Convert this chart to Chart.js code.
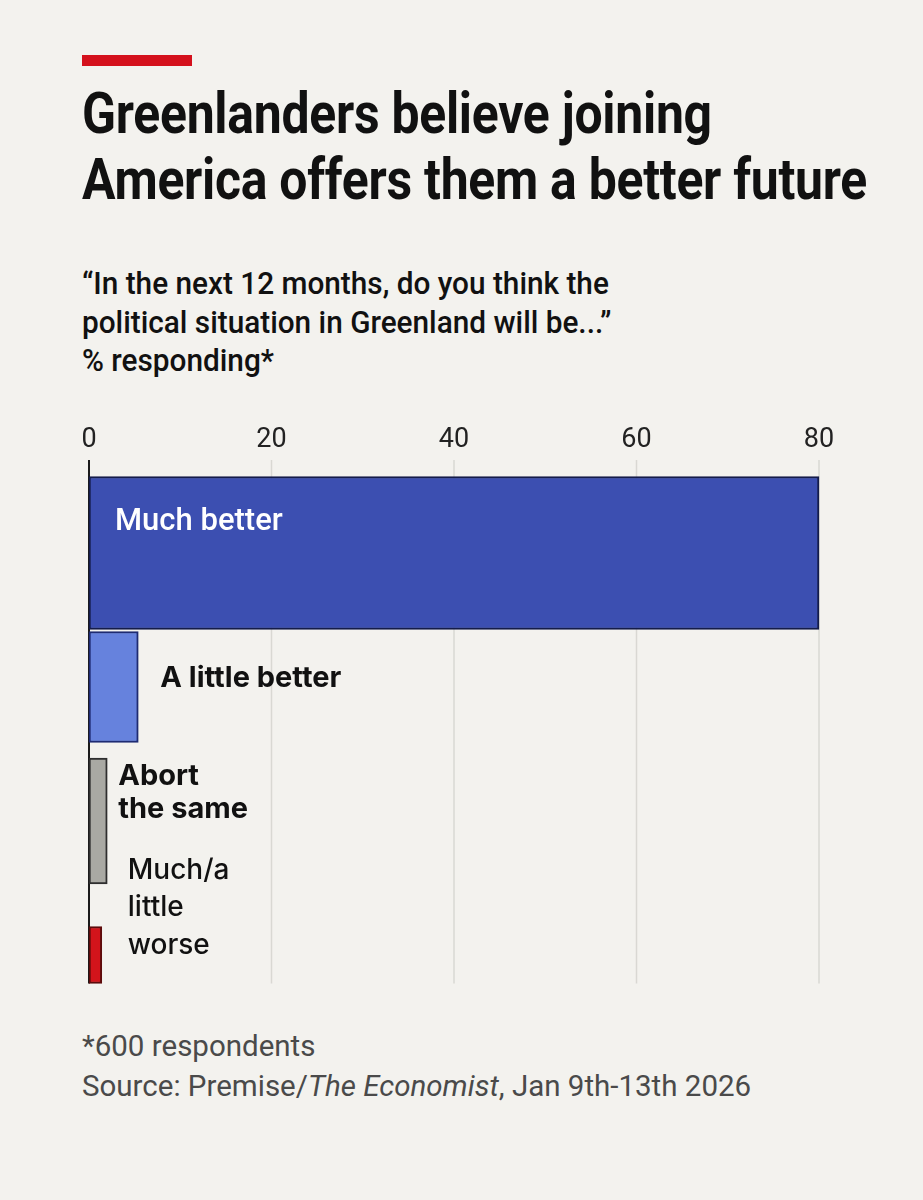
<!DOCTYPE html>
<html>
<head>
<meta charset="utf-8">
<script src="https://cdn.jsdelivr.net/npm/chart.js@4.4.1/dist/chart.umd.min.js"></script>
<style>
  html, body { margin: 0; padding: 0; background: #f3f2ee; }
  body { width: 923px; height: 1200px; position: relative; overflow: hidden; font-family: Roboto, 'Noto Sans', sans-serif; color: #111; }
  .redbar { position: absolute; left: 82px; top: 55px; width: 110px; height: 11px; background: #d4111c; }
  .title { position: absolute; left: 82px; top: 80px; font-weight: 700; font-size: 58px; line-height: 66px; white-space: nowrap; transform: scaleX(0.86); transform-origin: 0 0; letter-spacing: -0.3px; }
  .subtitle { position: absolute; left: 82px; top: 265px; font-size: 31px; font-weight: 500; line-height: 38.5px; white-space: nowrap; color: #111; transform: scaleX(0.96); transform-origin: 0 0; }
  .chartbox { position: absolute; left: 0; top: 395px; width: 923px; height: 627px; }
  .footer { position: absolute; left: 82px; top: 1026px; font-size: 29.5px; line-height: 40px; white-space: nowrap; color: #4a4a4a; }
</style>
</head>
<body>
<div class="redbar"></div>
<div class="title">Greenlanders believe joining<br>America offers them a better future</div>
<div class="subtitle">“In the next 12 months, do you think the<br>political situation in Greenland will be...”<br>% responding*</div>
<div class="chartbox"><canvas id="chart"></canvas></div>
<div class="footer">*600 respondents<br>Source: Premise/<i>The Economist</i>, Jan 9th-13th 2026</div>

<script>
const categories = [['Much better'], ['A little better'], ['Abort', 'the same'], ['Much/a', 'little', 'worse']];
const values = [80, 5.4, 2.0, 1.4];
const xTicks = [0, 20, 40, 60, 80];

// per-bar look
const fills = ['#3c4fb1', '#6682dd', '#a9a9a3', '#d3141b'];
const edges = ['#141c4a', '#1e2b72', '#2e2e2e', '#5c0b0b'];
const thickness = [153, 111, 126, 57];

// where each bar's label sits relative to its bar
const labelPlace = [
  { from: 'base', dx: 26, edge: 'top', dy: 53, lh: 34, color: '#fff', font: '500 31px Roboto' },
  { from: 'end', dx: 22, edge: 'top', dy: 55, lh: 34, color: '#111', font: '700 29px Inter' },
  { from: 'end', dx: 11, edge: 'top', dy: 27, lh: 33, color: '#111', font: '700 29px Inter' },
  { from: 'end', dx: 26, edge: 'bottom', dy: -105, lh: 37.5, color: '#111', font: '500 28px Inter' },
];

const gridLines = {
  id: 'gridLines',
  beforeDatasetsDraw(chart) {
    const { ctx, chartArea, scales: { x } } = chart;
    const last = chart.getDatasetMeta(values.length - 1).data[values.length - 1];
    const bottom = last.y + last.height / 2;
    ctx.save();
    xTicks.forEach(v => {
      const px = x.getPixelForValue(v);
      ctx.beginPath();
      ctx.strokeStyle = v === 0 ? '#1a1a1a' : '#d9d8d3';
      ctx.lineWidth = v === 0 ? 2 : 1.5;
      ctx.moveTo(px, chartArea.top - 26);
      ctx.lineTo(px, bottom);
      ctx.stroke();
    });
    ctx.restore();
  }
};

const barLabels = {
  id: 'barLabels',
  afterDatasetsDraw(chart) {
    const { ctx } = chart;
    ctx.save();
    ctx.textAlign = 'left';
    ctx.textBaseline = 'alphabetic';
    categories.forEach((lines, i) => {
      const el = chart.getDatasetMeta(i).data[i];
      const p = labelPlace[i];
      const x0 = (p.from === 'base' ? el.base : el.x) + p.dx;
      const y0 = (p.edge === 'top' ? el.y - el.height / 2 : el.y + el.height / 2) + p.dy;
      ctx.fillStyle = p.color;
      ctx.font = p.font;
      lines.forEach((line, k) => ctx.fillText(line, x0, y0 + k * p.lh));
    });
    ctx.restore();
  }
};

new Chart(document.getElementById('chart'), {
  type: 'bar',
  data: {
    labels: categories.map(c => c.join(' ')),
    datasets: categories.map((c, i) => ({
      label: c.join(' '),
      data: values.map((v, j) => (j === i ? v : null)),
      backgroundColor: fills[i],
      borderColor: edges[i],
      borderWidth: 2,
      borderSkipped: false,
      barThickness: thickness[i],
      grouped: false,
      clip: false,
    })),
  },
  options: {
    indexAxis: 'y',
    responsive: true,
    maintainAspectRatio: false,
    animation: false,
    layout: { padding: { left: 89, right: 104, top: 0, bottom: 0 } },
    plugins: {
      legend: { display: false },
      tooltip: { enabled: false },
    },
    scales: {
      x: {
        type: 'linear',
        position: 'top',
        min: 0,
        max: 80,
        afterBuildTicks: scale => { scale.ticks = xTicks.map(v => ({ value: v })); },
        grid: { display: false, drawTicks: false },
        border: { display: false },
        ticks: {
          color: '#222',
          font: { family: 'Roboto', size: 27 },
          padding: 29.3,
        },
      },
      y: { display: false },
    },
  },
  plugins: [gridLines, barLabels],
});
</script>
</body>
</html>
